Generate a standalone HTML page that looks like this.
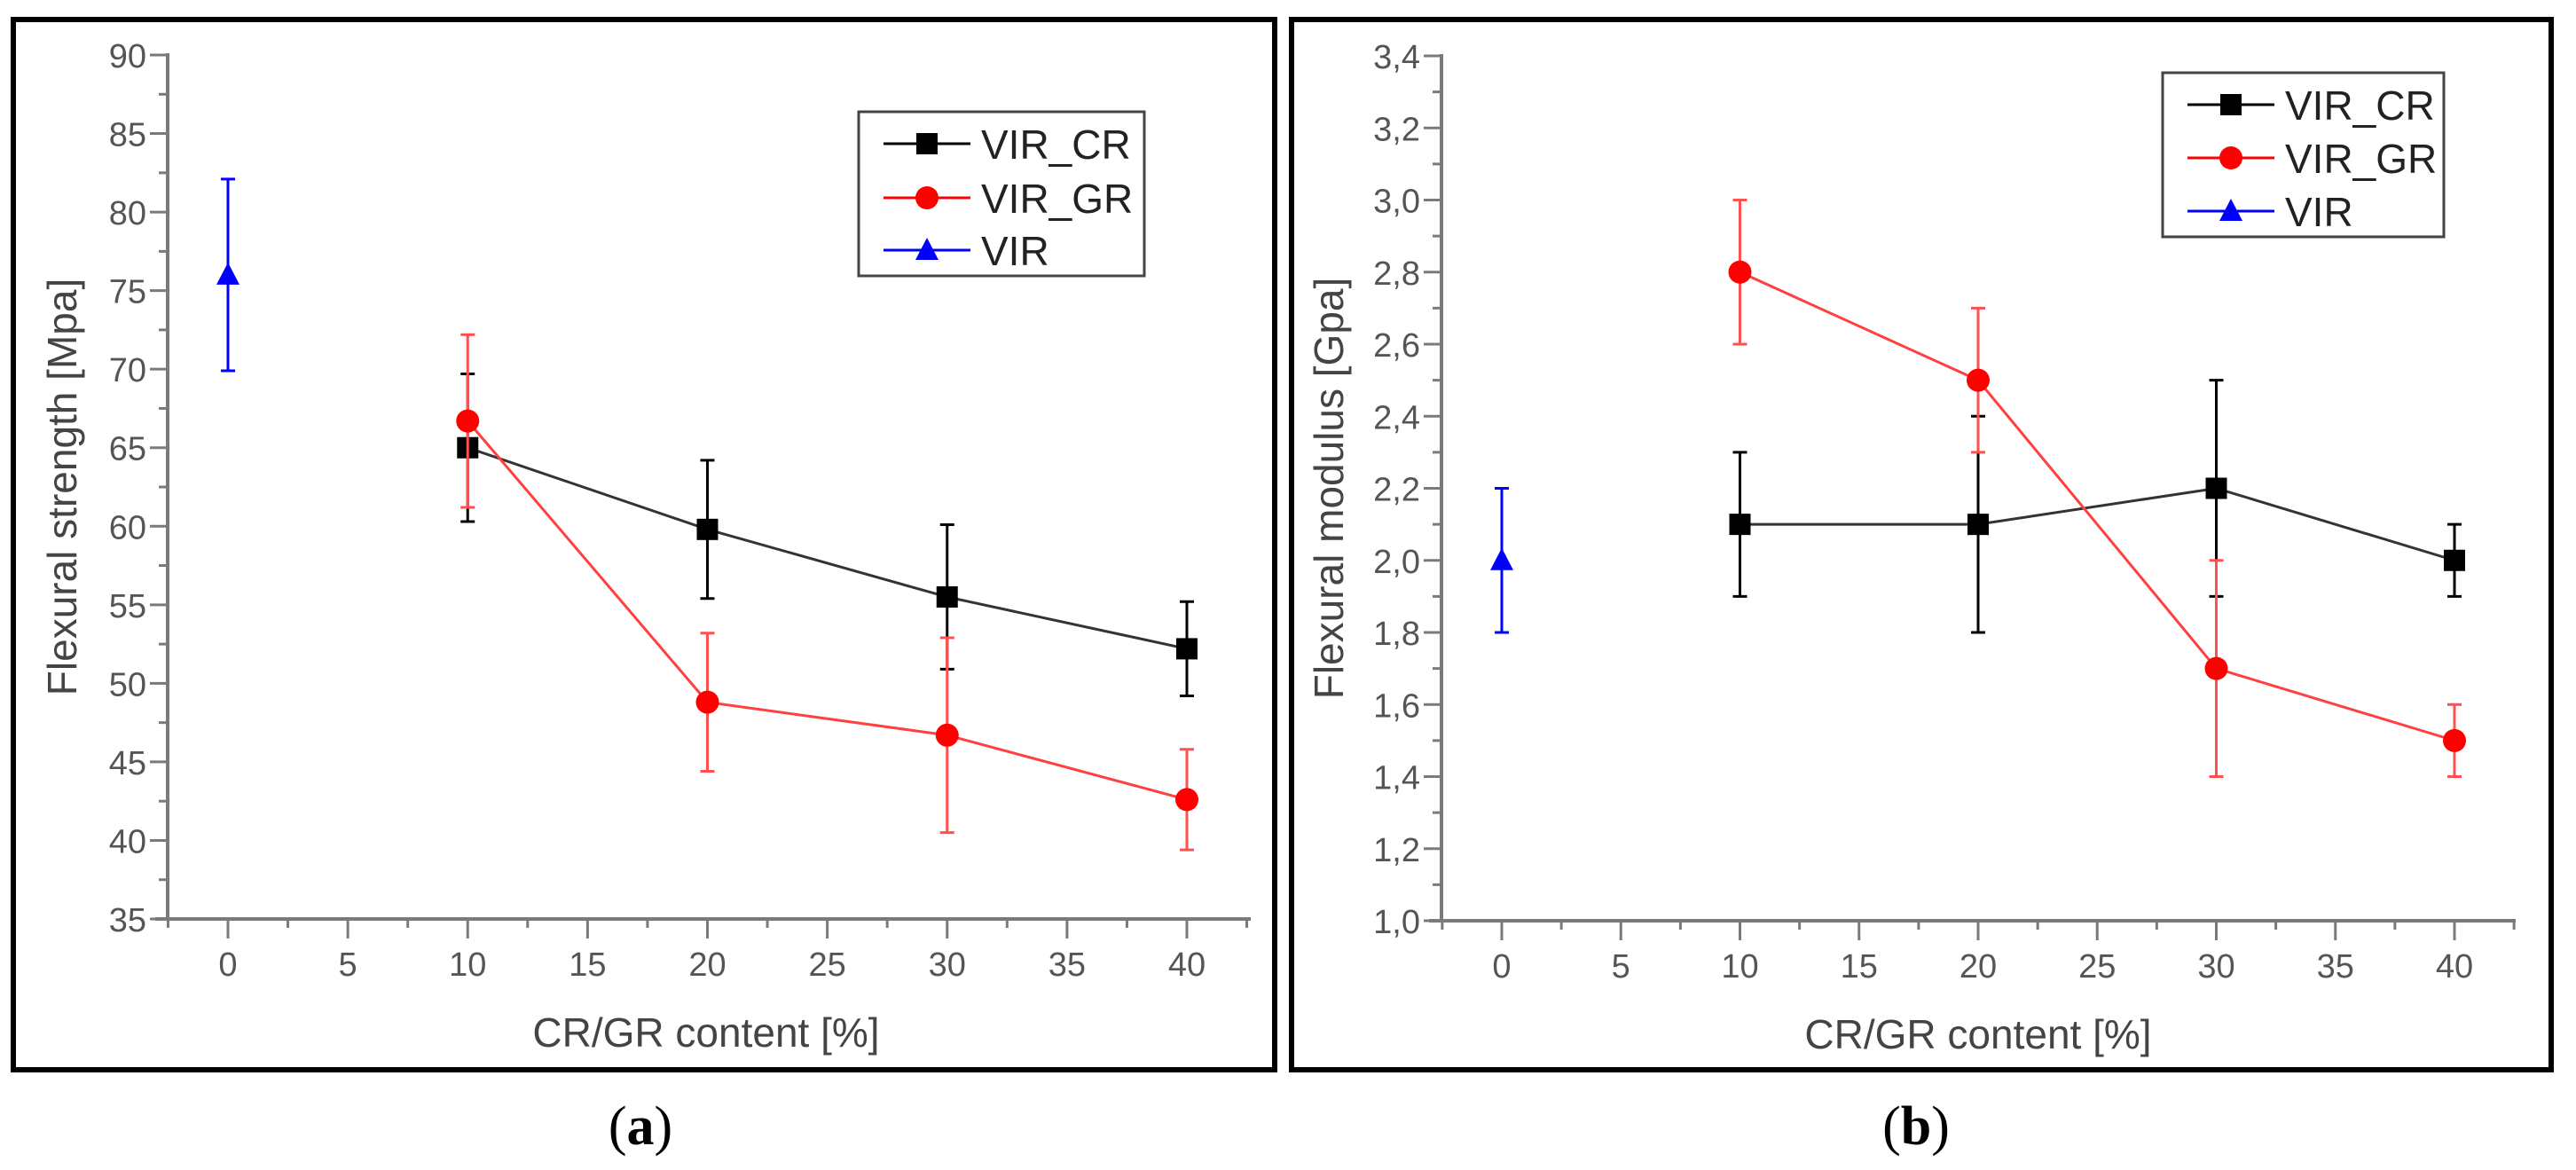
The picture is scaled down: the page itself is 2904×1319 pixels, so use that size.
<!DOCTYPE html>
<html><head><meta charset="utf-8">
<style>
html,body{margin:0;padding:0;background:#fff;width:2904px;height:1319px;overflow:hidden}
svg{display:block}
text{font-family:"Liberation Sans",sans-serif}
</style></head>
<body>
<svg id="fig" width="2904" height="1319" viewBox="0 0 2904 1319" xmlns="http://www.w3.org/2000/svg">
<rect x="0" y="0" width="2904" height="1319" fill="#fff"/>
<rect x="15" y="22" width="1422" height="1184" fill="none" stroke="#000" stroke-width="6"/>
<rect x="1456" y="22" width="1420" height="1184" fill="none" stroke="#000" stroke-width="6"/>
<text x="722" y="1290" text-anchor="middle" font-size="62" style="font-family:'Liberation Serif',serif">(<tspan font-weight="bold">a</tspan>)</text>
<text x="2160" y="1290" text-anchor="middle" font-size="62" style="font-family:'Liberation Serif',serif">(<tspan font-weight="bold">b</tspan>)</text>
</svg>
<script>
const xCats = [0, 10, 20, 30, 40];
const xTicks = [0, 5, 10, 15, 20, 25, 30, 35, 40];
// Panel a
const aVir = [76]; const aVirErr = [6.1];
const aCr = [65.0, 59.8, 55.5, 52.2]; const aCrErr = [4.7, 4.4, 4.6, 3.0];
const aGr = [66.7, 48.8, 46.7, 42.6]; const aGrErr = [5.5, 4.4, 6.2, 3.2];
const aYTicks = [35, 40, 45, 50, 55, 60, 65, 70, 75, 80, 85, 90];
const aYLabels = ["35","40","45","50","55","60","65","70","75","80","85","90"];
// Panel b
const bVir = [2.0]; const bVirErr = [0.2];
const bCr = [2.1, 2.1, 2.2, 2.0]; const bCrErr = [0.2, 0.3, 0.3, 0.1];
const bGr = [2.8, 2.5, 1.7, 1.5]; const bGrErr = [0.2, 0.2, 0.3, 0.1];
const bYTicks = [1.0, 1.2, 1.4, 1.6, 1.8, 2.0, 2.2, 2.4, 2.6, 2.8, 3.0, 3.2, 3.4];
const bYLabels = ["1,0","1,2","1,4","1,6","1,8","2,0","2,2","2,4","2,6","2,8","3,0","3,2","3,4"];
const seriesNames = ["VIR_CR", "VIR_GR", "VIR"];

const NS = "http://www.w3.org/2000/svg";
const svg = document.getElementById('fig');
function mk(tag, attrs, parent) {
  const e = document.createElementNS(NS, tag);
  for (const k in attrs) e.setAttribute(k, attrs[k]);
  (parent || svg).appendChild(e);
  return e;
}
function marker(g, shape, x, y, color) {
  let m;
  if (shape === 'sq') m = mk('rect', {x: x-12, y: y-12, width: 24, height: 24, fill: color}, g);
  else if (shape === 'ci') m = mk('circle', {cx: x, cy: y, r: 13, fill: color}, g);
  else m = mk('polygon', {points: `${x},${y-14} ${x-13},${y+11} ${x+13},${y+11}`, fill: color}, g);
  return m;
}
function panel(p) {
  const g = mk('g', {});
  
  
  const X = v => p.x0 + (v - 0) * (p.x40 - p.x0) / 40;
  const Y = v => p.yBot + (v - p.yMin) * (p.yTop - p.yBot) / (p.yMax - p.yMin);
  const ax = '#7a7a7a', tc = '#555';
  const yAx = mk('line', {x1: p.axL, y1: Y(p.yMax) - 2, x2: p.axL, y2: p.yBot, stroke: ax, 'stroke-width': 4}, g);
  
  
  const xAx = mk('line', {x1: p.axL - 14, y1: p.yBot, x2: p.axR, y2: p.yBot, stroke: ax, 'stroke-width': 4}, g);
  
  
  p.yT.forEach((v, i) => {
    mk('line', {x1: p.axL - 20, y1: Y(v), x2: p.axL, y2: Y(v), stroke: ax, 'stroke-width': 3}, g);
    if (i < p.yT.length - 1) {
      const mv = (v + p.yT[i+1]) / 2;
      mk('line', {x1: p.axL - 10, y1: Y(mv), x2: p.axL, y2: Y(mv), stroke: ax, 'stroke-width': 3}, g);
    }
    const t = mk('text', {x: p.axL - 24, y: Y(v) + 14, 'text-anchor': 'end', 'font-size': 38, fill: tc}, g);
    t.textContent = p.yL[i];
    
    
  });
  xTicks.forEach(v => {
    mk('line', {x1: X(v), y1: p.yBot, x2: X(v), y2: p.yBot + 22, stroke: ax, 'stroke-width': 3}, g);
    mk('line', {x1: X(v - 2.5), y1: p.yBot, x2: X(v - 2.5), y2: p.yBot + 10, stroke: ax, 'stroke-width': 3}, g);
    const t = mk('text', {x: X(v), y: p.yBot + 64, 'text-anchor': 'middle', 'font-size': 38, fill: tc}, g);
    t.textContent = String(v);
    
    
  });
  mk('line', {x1: X(42.5), y1: p.yBot, x2: X(42.5), y2: p.yBot + 10, stroke: ax, 'stroke-width': 3}, g);
  const xt = mk('text', {x: p.xTitleX, y: p.yBot + 144, 'text-anchor': 'middle', 'font-size': 46, fill: '#444'}, g);
  xt.textContent = 'CR/GR content [%]';
  
  
  const yt = mk('text', {x: 0, y: 0, 'text-anchor': 'middle', 'font-size': 46, fill: '#444', transform: `translate(${p.yTitleX},${(Y(p.yMax)+p.yBot)/2}) rotate(-90)`}, g);
  yt.textContent = p.yTitle;
  
  
  const series = [
    {name: 'vir-cr', vals: p.cr, err: p.crErr, xs: xCats.slice(1), color: '#000', shape: 'sq', lw: 3},
    {name: 'vir-gr', vals: p.gr, err: p.grErr, xs: xCats.slice(1), color: '#ff0000', shape: 'ci', lw: 3},
    {name: 'vir', vals: p.vir, err: p.virErr, xs: xCats.slice(0, 1), color: '#0000ff', shape: 'tr', lw: 3}
  ];
  series.forEach(s => {
    const sg = mk('g', {}, g);
    
    
    const ecol = s.color === '#ff0000' ? '#ff5050' : s.color;
    s.vals.forEach((v, i) => {
      const x = X(s.xs[i]);
      const e = mk('path', {d: `M${x},${Y(v+s.err[i])}V${Y(v-s.err[i])}M${x-8},${Y(v+s.err[i])}h16M${x-8},${Y(v-s.err[i])}h16`, stroke: ecol, 'stroke-width': 3, fill: 'none'}, sg);
      
      
    });
    if (s.vals.length > 1) {
      const pts = s.vals.map((v, i) => X(s.xs[i]) + ',' + Y(v)).join(' ');
      const l = mk('polyline', {points: pts, fill: 'none', stroke: s.color === '#ff0000' ? '#ff4040' : '#333', 'stroke-width': s.lw}, sg);
      
      
    }
    s.vals.forEach((v, i) => {
      const m = marker(sg, s.shape, X(s.xs[i]), Y(v), s.color);
      
      
    });
  });
  const lg = mk('g', {}, g);
  
  
  mk('rect', {x: p.lg.x, y: p.lg.y, width: p.lg.w, height: p.lg.h, fill: '#fff', stroke: '#444', 'stroke-width': 3}, lg);
  const cols = ['#000', '#ff0000', '#0000ff'], shapes = ['sq', 'ci', 'tr'];
  seriesNames.forEach((n, i) => {
    const ey = p.lg.ys[i];
    const eg = mk('g', {}, lg);
    
    
    mk('line', {x1: p.lg.x + 28, y1: ey, x2: p.lg.x + 126, y2: ey, stroke: cols[i], 'stroke-width': 3}, eg);
    marker(eg, shapes[i], p.lg.x + 77, ey, cols[i]);
    const t = mk('text', {x: p.lg.x + 138, y: ey + 17, 'font-size': 46, fill: '#222'}, eg);
    t.textContent = n;
  });
}
panel({id: 'panel-a', x0: 257, x40: 1338, axL: 189, axR: 1410, yBot: 1036, yTop: 62, yMin: 35, yMax: 90,
  yT: aYTicks, yL: aYLabels, vir: aVir, virErr: aVirErr, cr: aCr, crErr: aCrErr, gr: aGr, grErr: aGrErr,
  xTitleX: 796, yTitleX: 86, yTitle: 'Flexural strength [Mpa]',
  lg: {x: 968, y: 126, w: 322, h: 185, ys: [162, 223, 282]}});
panel({id: 'panel-b', x0: 1693, x40: 2767, axL: 1625, axR: 2836, yBot: 1038, yTop: 63, yMin: 1.0, yMax: 3.4,
  yT: bYTicks, yL: bYLabels, vir: bVir, virErr: bVirErr, cr: bCr, crErr: bCrErr, gr: bGr, grErr: bGrErr,
  xTitleX: 2230, yTitleX: 1514, yTitle: 'Flexural modulus [Gpa]',
  lg: {x: 2438, y: 82, w: 317, h: 185, ys: [118, 178, 238]}});
</script>
</body></html>
